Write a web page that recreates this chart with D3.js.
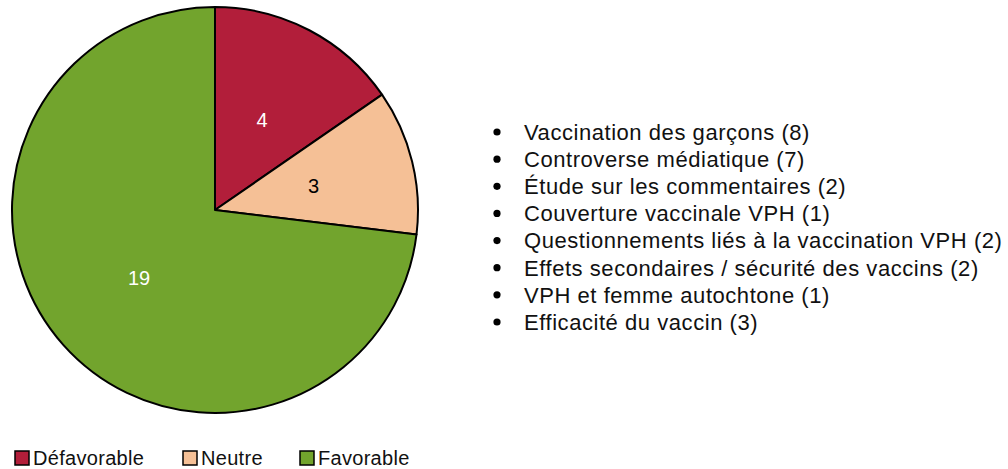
<!DOCTYPE html>
<html>
<head>
<meta charset="utf-8">
<script src="https://cdn.jsdelivr.net/npm/d3@7"></script>
<style>
  body { margin: 0; background: #fff; }
  svg { display: block; font-family: "Liberation Sans", Arial, Helvetica, sans-serif; }
</style>
</head>
<body>
<svg id="chart" width="1008" height="469"></svg>
<script>
// categories and values of the pie
const categories = ["Défavorable", "Neutre", "Favorable"];
const counts = [4, 3, 19];
const colors = ["#B21E3A", "#F5C096", "#72A42D"];
const labelColors = ["#fff", "#000", "#fff"];

// bullet list of themes
const themes = [
  "Vaccination des garçons (8)",
  "Controverse médiatique (7)",
  "Étude sur les commentaires (2)",
  "Couverture vaccinale VPH (1)",
  "Questionnements liés à la vaccination VPH (2)",
  "Effets secondaires / sécurité des vaccins (2)",
  "VPH et femme autochtone (1)",
  "Efficacité du vaccin (3)"
];

const svg = d3.select("#chart");
const cx = 215, cy = 210, radius = 203;

const data = categories.map((c, i) => ({cat: c, value: counts[i], color: colors[i], lc: labelColors[i]}));

const pie = d3.pie().value(d => d.value).sort(null);
const arc = d3.arc().innerRadius(0).outerRadius(radius);
const labelArc = d3.arc().innerRadius(radius * 0.5).outerRadius(radius * 0.5);

const g = svg.append("g").attr("transform", `translate(${cx},${cy})`);

g.selectAll("path")
  .data(pie(data))
  .join("path")
  .attr("d", arc)
  .attr("fill", d => d.data.color)
  .attr("stroke", "#000")
  .attr("stroke-width", 2)
  .attr("stroke-linejoin", "round");

g.selectAll("text")
  .data(pie(data))
  .join("text")
  .attr("transform", d => `translate(${labelArc.centroid(d)})`)
  .attr("text-anchor", "middle")
  .attr("dy", "0.36em")
  .attr("font-size", 20)
  .attr("fill", d => d.data.lc)
  .text(d => d.data.value);

// theme list
const y = d3.scalePoint().domain(d3.range(themes.length)).range([132, 322]);
const list = svg.append("g");
list.selectAll("circle")
  .data(themes)
  .join("circle")
  .attr("cx", 497)
  .attr("cy", (d, i) => y(i))
  .attr("r", 3.6)
  .attr("fill", "#000");
list.selectAll("text")
  .data(themes)
  .join("text")
  .attr("x", 524)
  .attr("y", (d, i) => y(i))
  .attr("dy", "0.36em")
  .attr("font-size", 22)
  .attr("letter-spacing", 0.55)
  .attr("fill", "#111")
  .text(d => d);

// bottom legend
const legendX = [15, 183, 300];
const leg = svg.append("g").selectAll("g")
  .data(data)
  .join("g")
  .attr("transform", (d, i) => `translate(${legendX[i]},451)`);
leg.append("rect")
  .attr("width", 14).attr("height", 14)
  .attr("fill", d => d.color)
  .attr("stroke", "#000").attr("stroke-width", 1.5);
leg.append("text")
  .attr("x", 18).attr("y", 7).attr("dy", "0.34em")
  .attr("font-size", 20)
  .attr("letter-spacing", 0.3)
  .attr("fill", "#111")
  .text(d => d.cat);
</script>
</body>
</html>
